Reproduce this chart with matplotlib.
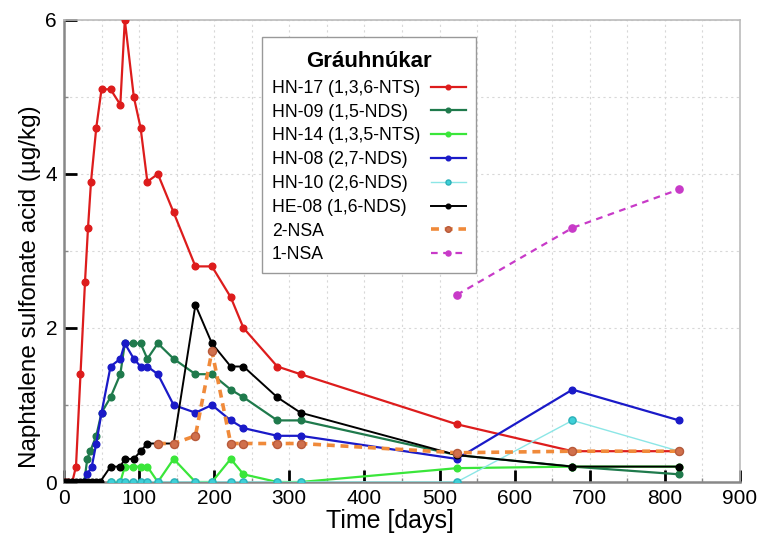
import matplotlib
matplotlib.use("Agg")
import matplotlib.pyplot as plt
from matplotlib.ticker import MultipleLocator
from matplotlib.offsetbox import DrawingArea

plt.rcParams['font.family'] = ['Liberation Sans', 'DejaVu Sans']

# ----------------------------
# Data
# ----------------------------
t_hn17 = [1, 6, 11, 16, 22, 28, 32, 36, 43, 50, 62, 75, 81, 93, 102, 111, 125, 146,
          175, 197, 222, 239, 284, 315, 523, 677, 819]
y_hn17 = [0, 0, 0, 0.2, 1.4, 2.6, 3.3, 3.9, 4.6, 5.1, 5.1, 4.9, 6.0, 5.0, 4.6, 3.9, 4.0, 3.5,
          2.8, 2.8, 2.4, 2.0, 1.5, 1.4, 0.75, 0.4, 0.4]

t_hn09 = [27, 31, 35, 43, 50, 62, 75, 81, 92, 102, 111, 125, 146, 175, 197, 222, 239,
          284, 315, 523, 677, 819]
y_hn09 = [0, 0.3, 0.4, 0.6, 0.9, 1.1, 1.4, 1.8, 1.8, 1.8, 1.6, 1.8, 1.6, 1.4, 1.4, 1.2, 1.1,
          0.8, 0.8, 0.35, 0.2, 0.1]

t_hn14 = [62, 75, 81, 92, 102, 111, 125, 146, 175, 197, 222, 239, 284, 315, 523, 677, 819]
y_hn14 = [0, 0, 0.2, 0.2, 0.2, 0.2, 0, 0.3, 0, 0, 0.3, 0.1, 0, 0, 0.18, 0.2, 0.2]

t_hn08 = [27, 31, 37, 43, 50, 62, 75, 81, 93, 102, 111, 125, 146, 175, 197, 222, 239,
          284, 315, 523, 677, 819]
y_hn08 = [0, 0.1, 0.2, 0.5, 0.9, 1.5, 1.6, 1.8, 1.6, 1.5, 1.5, 1.4, 1.0, 0.9, 1.0, 0.8, 0.7,
          0.6, 0.6, 0.3, 1.2, 0.8]

t_hn10 = [62, 75, 81, 92, 102, 111, 125, 146, 175, 197, 222, 239, 284, 315, 523, 677, 819]
y_hn10 = [0, 0, 0, 0, 0, 0, 0, 0, 0, 0, 0, 0, 0, 0, 0, 0.8, 0.4]

t_he08 = [1, 6, 11, 16, 22, 27, 32, 37, 43, 48, 62, 75, 81, 93, 102, 111, 125, 146,
          175, 197, 222, 239, 284, 315, 523, 677, 819]
y_he08 = [0, 0, 0, 0, 0, 0, 0, 0, 0, 0, 0.2, 0.2, 0.3, 0.3, 0.4, 0.5, 0.5, 0.5,
          2.3, 1.8, 1.5, 1.5, 1.1, 0.9, 0.35, 0.2, 0.2]

t_2nsa = [125, 146, 175, 197, 222, 239, 284, 315, 523, 677, 819]
y_2nsa = [0.5, 0.5, 0.6, 1.7, 0.5, 0.5, 0.5, 0.5, 0.38, 0.4, 0.4]

t_1nsa = [523, 677, 819]
y_1nsa = [2.43, 3.3, 3.8]

DPI = 100
fig = plt.figure(figsize=(7.58, 5.37), dpi=DPI)
ax = fig.add_axes([0.0844, 0.1024, 0.8918, 0.8604])

ax.plot(t_hn17, y_hn17, '-o', color='#dd1c1c', lw=1.6, ms=4.8, label='HN-17 (1,3,6-NTS)', zorder=3)
ax.plot(t_hn09, y_hn09, '-o', color='#1f7a4c', lw=1.6, ms=4.8, label='HN-09 (1,5-NDS)', zorder=3)
ax.plot(t_hn14, y_hn14, '-o', color='#3ae63a', lw=1.6, ms=4.8, label='HN-14 (1,3,5-NTS)', zorder=3)
ax.plot(t_hn08, y_hn08, '-o', color='#1a1ac8', lw=1.6, ms=4.8, label='HN-08 (2,7-NDS)', zorder=3)
ax.plot(t_hn10, y_hn10, '-o', color='#8ce6e6', mfc='#3ed0d8', mec='#2bb0b8', lw=1.0, ms=5.2,
        label='HN-10 (2,6-NDS)', zorder=3)
ax.plot(t_he08, y_he08, '-o', color='black', lw=1.4, ms=4.8, label='HE-08 (1,6-NDS)', zorder=4)
ax.plot(t_2nsa, y_2nsa, '--o', color='#f08a3a', mfc='#d0704c', mec='#b85a3a', lw=2.6, ms=5.8,
        dashes=(2.2, 1.6), label='2-NSA', zorder=5)
ax.plot(t_1nsa, y_1nsa, '--o', color='#c83ac8', lw=1.6, ms=5.2, dashes=(3, 2.5), label='1-NSA', zorder=3)

ax.set_xlim(0, 900)
ax.set_ylim(0, 6)
ax.xaxis.set_major_locator(MultipleLocator(100))
ax.xaxis.set_minor_locator(MultipleLocator(50))
ax.yaxis.set_major_locator(MultipleLocator(2))
ax.yaxis.set_minor_locator(MultipleLocator(1))
ax.grid(True, which='both', color='#d8d8d8', ls=(0, (2, 3)), lw=0.8)
ax.set_axisbelow(True)

ax.tick_params(which='major', direction='in', length=9, width=2, color='black',
               labelsize=15, pad=5)
ax.tick_params(which='minor', direction='in', length=3, width=1, color='#888888')
for side in ['left', 'bottom']:
    ax.spines[side].set_color('#888888')
    ax.spines[side].set_linewidth(1.8)
for side in ['top', 'right']:
    ax.spines[side].set_color('#bbbbbb')
    ax.spines[side].set_linewidth(1.2)

ax.set_ylabel('Naphtalene sulfonate acid (µg/kg)', fontsize=17.5)
ax.set_xlabel('Time [days]', fontsize=18)
ax.yaxis.set_label_coords(-0.034, 0.422)
ax.xaxis.set_label_coords(0.482, -0.058)

leg = ax.legend(loc='upper left', bbox_to_anchor=(0.293, 0.963), borderaxespad=0,
                markerfirst=False, fontsize=12.7, title='Gráuhnúkar',
                title_fontproperties={'weight': 'bold', 'size': 16},
                fancybox=False, framealpha=1, edgecolor='#999999', handlelength=2.0,
                markerscale=0.7, labelspacing=0.385, borderpad=0.55, handletextpad=0.6)
leg.get_frame().set_linewidth(1.0)

# left-align the legend labels while keeping the handles in one column on the right
fig.canvas.draw()
renderer = fig.canvas.get_renderer()
texts = leg.get_texts()
widths = [t.get_window_extent(renderer).width for t in texts]
maxw = max(widths)
items = [item for col in leg._legend_handle_box.get_children() for item in col.get_children()]
for item, w in zip(items, widths):
    item.sep = item.sep + (maxw - w) * 72.0 / DPI

# a bit more room above and below the legend title
box = leg._legend_box
box.sep = 2.9
box._children = [DrawingArea(0, 0), leg._legend_title_box, DrawingArea(0, 0), leg._legend_handle_box]

fig.savefig('out.png', dpi=DPI)
